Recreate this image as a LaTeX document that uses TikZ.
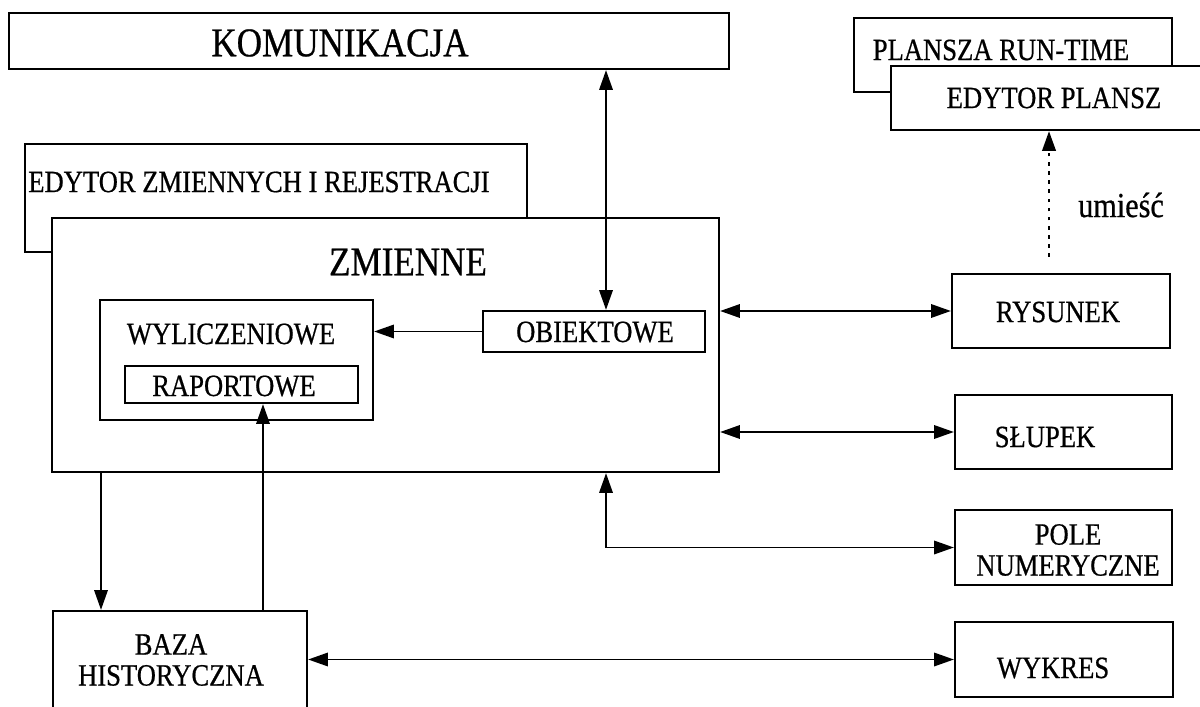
\documentclass[tikz,border=0pt]{standalone}
\usepackage{fontspec}
\setmainfont[FakeStretch=0.86,FakeBold=0.6]{Liberation Serif}
\usetikzlibrary{arrows.meta,fit}

\tikzset{
	box/.style={draw, line width=1.6pt, fill=white, inner sep=0pt},
	txt/.style={font=\fontsize{22}{22}\selectfont, inner sep=0pt, align=center},
	bigtxt/.style={font=\fontsize{29}{30}\selectfont, inner sep=0pt},
	conn/.style={line width=1.4pt},
	putline/.style={line width=1.8pt, dash pattern=on 2.5pt off 4pt}
}

\begin{document}
\begin{tikzpicture}[x=0.025cm, y=-0.025cm, >={Triangle[length=14pt,width=9.5pt]}]
			\clip (0,0) rectangle (1200,707);
			% boxes
			\node[box, fit={(9,13) (729,69)}] (kom) {};
			\node[box, fit={(854,18) (1172,92)}] (prt) {};
			\node[box, fit={(891,66) (1215,130)}] (edp) {};
			\node[box, fit={(25,144) (527,252)}] (edzm) {};
			\node[box, fit={(52,218) (719,472)}] (zm) {};
			\node[box, fit={(100,300) (373,420)}] (wyl) {};
			\node[box, fit={(125,366) (358,403)}] (rap) {};
			\node[box, fit={(483,311) (705,352)}] (obj) {};
			\node[box, fit={(952,274) (1170,348)}] (rys) {};
			\node[box, fit={(955,395) (1172,469)}] (slu) {};
			\node[box, fit={(955,510) (1172,585)}] (pole) {};
			\node[box, fit={(955,622) (1173,697)}] (wyk) {};
			\node[box, fit={(53,611) (307,730)}] (baza) {};
			% texts
			\node[bigtxt] (komtxt) at (340,43) {KOMUNIKACJA};
			\node[txt] (prttxt) at (1001,50) {PLANSZA RUN-TIME};
			\node[txt] (edptxt) at (1054,98) {EDYTOR PLANSZ};
			\node[txt, anchor=west] (edzmtxt) at (28,182) {EDYTOR ZMIENNYCH I REJESTRACJI};
			\node[bigtxt] (zmtxt) at (408,262) {ZMIENNE};
			\node[txt] (wyltxt) at (231,334) {WYLICZENIOWE};
			\node[txt] (raptxt) at (234,386) {RAPORTOWE};
			\node[txt] (objtxt) at (595,332) {OBIEKTOWE};
			\node[txt] (rystxt) at (1058,312) {RYSUNEK};
			\node[txt] (slutxt) at (1045,437) {SŁUPEK};
			\node[txt] (poletxt) at (1068,550) {POLE\\NUMERYCZNE};
			\node[txt] (wyktxt) at (1053,668) {WYKRES};
			\node[txt] (bazatxt) at (171,660) {BAZA\\HISTORYCZNA};
			\node[txt, font=\fontsize{25}{26}\selectfont] (umiesc) at (1121,205) {umieść};
			% connectors
			\coordinate (vx) at (606,0);
			\coordinate (dx) at (101,0);
			\coordinate (ux) at (263,0);
			\coordinate (put) at (1049,257);
			\draw[conn, <->] (kom.south -| vx) -- (obj.north -| vx);
			\draw[conn, ->] (obj.west) -- (wyl.east |- obj.west);
			\draw[conn, <->] (zm.east |- rys.west) -- (rys.west);
			\draw[conn, <->] (zm.east |- slu.west) -- (slu.west);
			\draw[conn, <->] (zm.south -| vx) |- (pole.west);
			\draw[conn, <->] (baza.east |- wyk.west) -- (wyk.west);
			\draw[conn, ->] (zm.south -| dx) -- (baza.north -| dx);
			\draw[conn, ->] (baza.north -| ux) -- (rap.south -| ux);
			\draw[putline, ->] (put) -- (edp.south -| put);
\end{tikzpicture}
\end{document}
